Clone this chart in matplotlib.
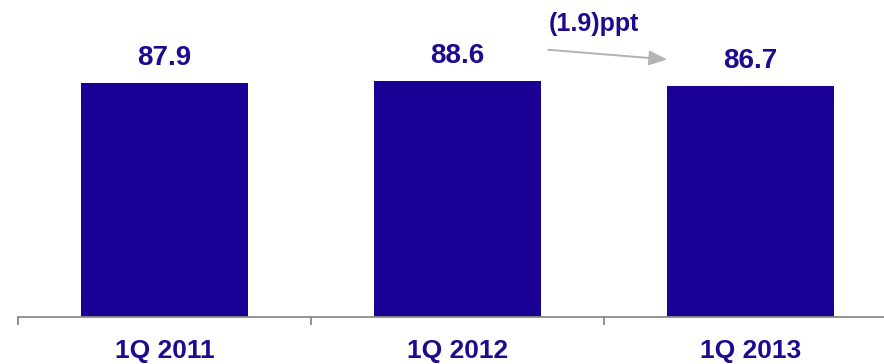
import numpy as np
import matplotlib.pyplot as plt

plt.rcParams['font.family'] = ['Liberation Sans', 'DejaVu Sans']

QUARTERS = ['1Q 2011', '1Q 2012', '1Q 2013']
VALUES = [87.9, 88.6, 86.7]
CHANGE_LABEL = '(1.9)ppt'

BAR_COLOR = '#1B0096'
TEXT_COLOR = '#1E0A8F'
AXIS_COLOR = '#8A8A8A'


def plot_bars():
    fig = plt.figure(figsize=(8.84, 3.64), dpi=100)
    # axes runs past the right edge so the last tick falls outside
    ax = fig.add_axes([18 / 884, 47 / 364, 879 / 884, 317 / 364])
    x = np.arange(len(QUARTERS))
    ax.bar(x, VALUES, width=0.57, color=BAR_COLOR)

    for xi, v in zip(x, VALUES):
        ax.annotate(f'{v:.1f}', (xi, v), xytext=(0, 13), textcoords='offset points',
                    ha='center', va='baseline', fontsize=20, fontweight='bold',
                    color=TEXT_COLOR)

    ax.set_xlim(-0.5, 2.5)
    ax.set_ylim(0, 119)

    # boundary ticks on the axis, quarter names centred between them
    ax.set_xticks(np.arange(len(QUARTERS) + 1) - 0.5)
    ax.set_xticklabels([])
    ax.set_xticks(x, minor=True)
    ax.set_xticklabels(QUARTERS, minor=True, fontsize=19, fontweight='bold',
                       color=TEXT_COLOR)
    ax.tick_params(axis='x', which='major', direction='out', length=6,
                   width=1.3, color=AXIS_COLOR)
    ax.tick_params(axis='x', which='minor', length=0, pad=16)
    ax.set_yticks([])

    for side in ['left', 'right', 'top']:
        ax.spines[side].set_visible(False)
    ax.spines['bottom'].set_color(AXIS_COLOR)
    ax.spines['bottom'].set_linewidth(1.3)

    # change arrow between the last two quarters
    ax.annotate('', xy=(1.725, 96.6), xytext=(1.30, 100.4),
                arrowprops=dict(arrowstyle='-|>,head_length=1.1,head_width=0.45',
                                color='#B3B3B3', lw=1.4))
    ax.text(1.31, 107.5, CHANGE_LABEL, ha='left', va='baseline', fontsize=18,
            fontweight='bold', color=TEXT_COLOR)

    fig.savefig('out.png', dpi=100)


if __name__ == '__main__':
    plot_bars()
